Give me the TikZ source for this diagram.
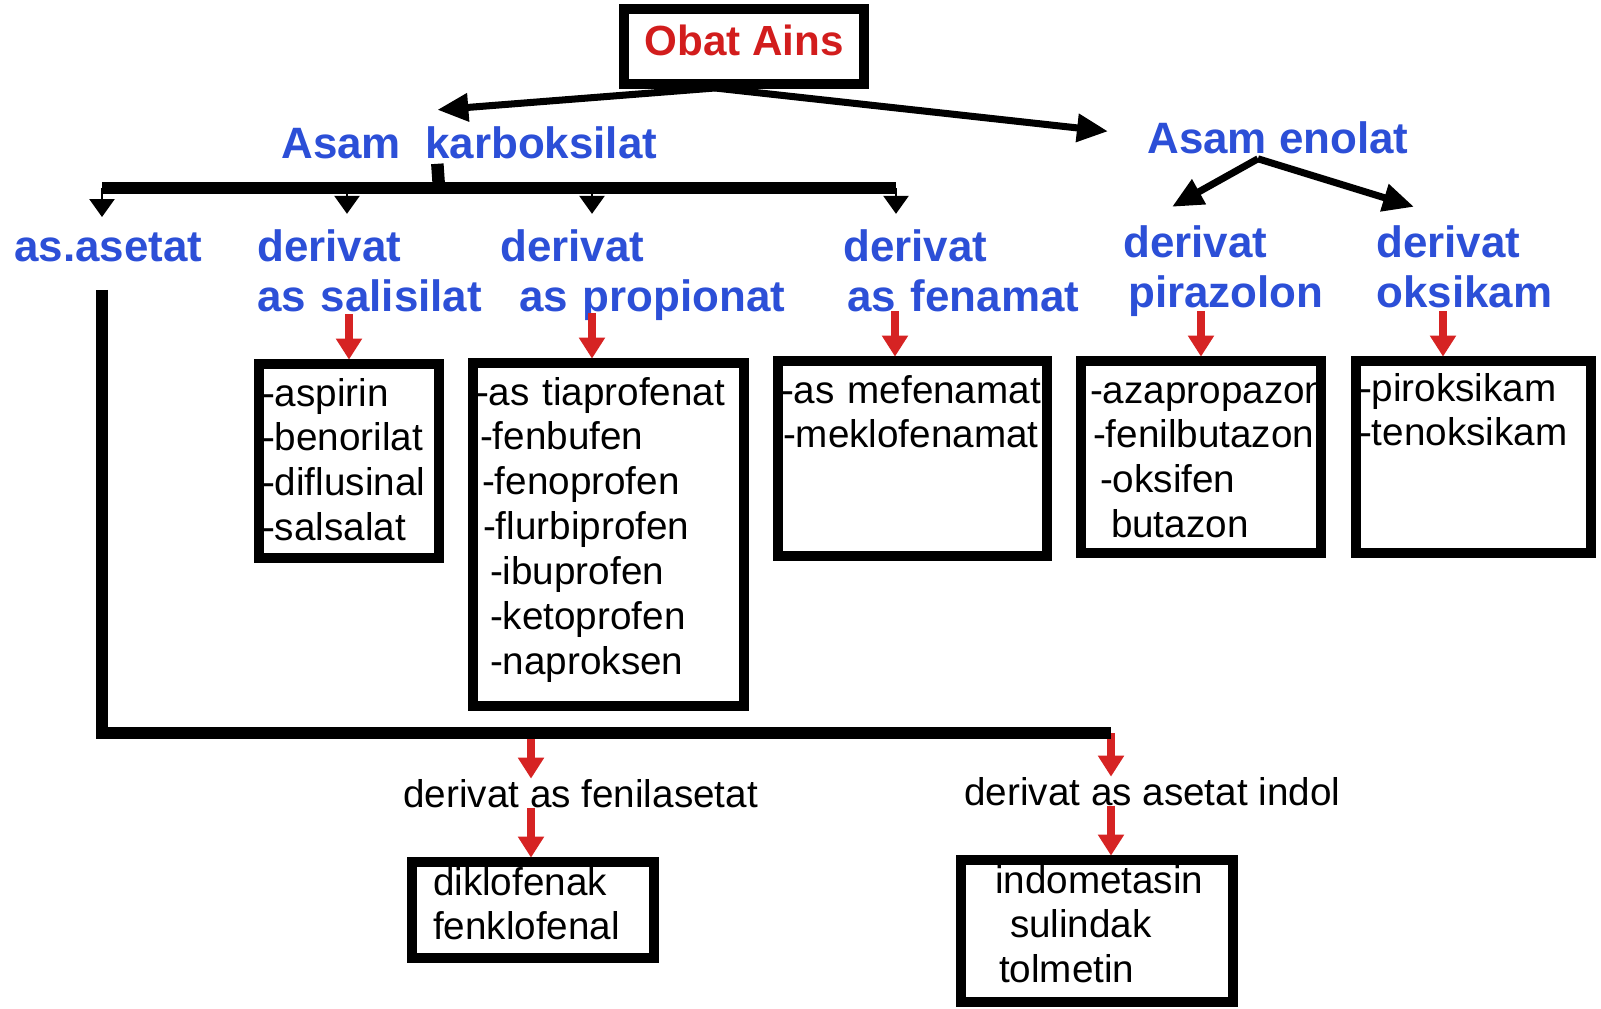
\documentclass[tikz,border=0pt]{standalone}
\usepackage{fontspec}
\setmainfont{Liberation Sans}
\usetikzlibrary{arrows.meta, positioning, calc}
\definecolor{ainsRed}{HTML}{D21D1D}
\definecolor{arrRed}{HTML}{D62323}
\definecolor{grpBlue}{HTML}{2C4FD7}
\hyphenpenalty=10000
\exhyphenpenalty=10000
\tikzset{
  bluefont/.style={font=\fontsize{25}{28.5}\selectfont\bfseries},
  listfont/.style={font=\fontsize{22}{25.6}\selectfont},
  grp/.style={bluefont, text=grpBlue, inner sep=0pt, anchor=base west},
  subgrp/.style={grp, align=left, text width=6cm},
  lstbox/.style={draw, line width=5.5pt, listfont, align=left, anchor=north west,
                 inner xsep=0.06cm, inner ysep=0pt, outer sep=0pt, text height=0.84cm},
  bigarr/.style={-{Triangle[length=0.62cm,width=0.54cm]}, line width=4pt},
}

\begin{document}
\begin{tikzpicture}[x=0.02cm, y=-0.02cm,
    heavy/.style={line width=0.25cm},
    tickarr/.style={-{Triangle[length=0.36cm,width=0.5cm]}, line width=1.5pt, shorten >=0.3cm},
    redarr/.style={-{Triangle[length=0.42cm,width=0.5cm]}, line width=0.15cm, arrRed},
    flowlbl/.style={listfont, inner sep=0pt, anchor=base west}
]
  \useasboundingbox (0,0) rectangle (1601,1008);

  % top of the tree
  \node[draw, line width=5.5pt, outer sep=0pt, minimum width=4.8cm, minimum height=1.5cm,
        font=\fontsize{24}{28}\selectfont\bfseries, text=ainsRed,
        text height=0.63cm, text depth=0.29cm] (ains) at (744,46.5) {Obat Ains};
  \node[grp] (karbo) at (281,158) {Asam~~karboksilat};
  \node[grp] (enolat) at (1147,153) {Asam enolat};
  \coordinate (fork) at ($(ains.south)+(-29,4)$);
  \draw[bigarr] (fork) -- ($(karbo.north)+(-32,-16)$);
  \draw[bigarr] (fork) -- ($(enolat.west)+(-39,-6)$);

  % asam karboksilat
  \coordinate (hub) at (439,188);
  \coordinate (b1) at (102,188);
  \coordinate (b2) at (347,188);
  \coordinate (b3) at (592,188);
  \coordinate (b4) at (896,188);
  \draw[heavy] ($(karbo.south)+(-32,5)$) -- (hub);
  \draw[heavy] (b1) -- (b4);

  \node[grp] (asetat) at (14,261) {as.asetat};
  \node[subgrp] (sali) at (257,261) {derivat\\as salisilat};
  \node[subgrp] (prop) at (500,261) {derivat\\\hspace*{0.38cm}as propionat};
  \node[subgrp] (fena) at (843,261) {derivat\\\hspace*{0.08cm}as fenamat};
  \node[subgrp] (pira) at (1123,257) {derivat\\\hspace*{0.1cm}pirazolon};
  \node[subgrp] (oksi) at (1376,257) {derivat\\oksikam};

  \foreach \b/\l in {b1/asetat, b2/sali, b3/prop, b4/fena}
    \draw[tickarr] (\b) -- (\b |- \l.north);

  % asam enolat
  \draw[bigarr] ($(enolat.south)+(-20,5)$) -- ($(pira.north west)+(49,-18)$);
  \draw[bigarr] ($(enolat.south)+(-20,5)$) -- ($(oksi.north west)+(38,-18)$);

  % drug lists
  \node[lstbox, text width=3.48cm, text depth=3.04cm] (salibox) at (259,364)
       {-aspirin\\-benorilat\\-diflusinal\\-salsalat};
  \node[lstbox, text width=5.30cm, text depth=6.02cm] (propbox) at (473,363)
       {-as tiaprofenat\\\hspace*{0.08cm}-fenbufen\\\hspace*{0.12cm}-fenoprofen\\
        \hspace*{0.14cm}-flurbiprofen\\\hspace*{0.28cm}-ibuprofen\\
        \hspace*{0.28cm}-ketoprofen\\\hspace*{0.28cm}-naproksen};
  \node[lstbox, text width=5.26cm, text depth=3.06cm] (fenabox) at (778,361)
       {-as mefenamat\\\hspace*{0.04cm}-meklofenamat};
  \node[lstbox, text width=4.68cm, text depth=3.0cm] (pirabox) at (1081,361)
       {\hspace*{0.12cm}-azapropazon\\\hspace*{0.18cm}-fenilbutazon\\
        \hspace*{0.32cm}-oksifen\\\hspace*{0.54cm}butazon};
  \node[lstbox, text width=4.58cm, text height=0.80cm, text depth=3.04cm] (oksibox) at (1356,361)
       {-piroksikam\\-tenoksikam};

  \draw[redarr, shorten >=2.5pt] ([yshift=1.0cm]salibox.north) -- (salibox.north);
  \draw[redarr, shorten >=2.5pt] ([xshift=-0.33cm,yshift=1.0cm]propbox.north) -- ([xshift=-0.33cm]propbox.north);
  \draw[redarr, shorten >=2.5pt] ([xshift=-0.35cm,yshift=1.0cm]fenabox.north) -- ([xshift=-0.35cm]fenabox.north);
  \draw[redarr, shorten >=2.5pt] ([yshift=1.0cm]pirabox.north) -- (pirabox.north);
  \draw[redarr, shorten >=2.5pt] ([xshift=-0.61cm,yshift=1.0cm]oksibox.north) -- ([xshift=-0.61cm]oksibox.north);

  % as.asetat
  \coordinate (elbow) at (102,733);
  \coordinate (hfen) at (531,733);
  \coordinate (hind) at (1111,733);
  \node[flowlbl] (fenil) at (403,807) {derivat as fenilasetat};
  \node[flowlbl] (indol) at (964,805) {derivat as asetat indol};
  \node[lstbox, inner xsep=0.42cm, text width=4.0cm, text height=0.66cm, text depth=1.26cm] (diklobox) at (412,862)
       {diklofenak\\fenklofenal};
  \node[lstbox, inner xsep=0.68cm, text width=4.08cm, text height=0.66cm, text depth=2.18cm] (indobox) at (961,860)
       {indometasin\\\hspace*{0.3cm}sulindak\\\hspace*{0.08cm}tolmetin};

  \draw[redarr] (hfen) -- (hfen |- fenil.north);
  \draw[redarr, shorten >=2.5pt] (hfen |- fenil.south) -- (hfen |- diklobox.north);
  \draw[redarr] (hind) -- (hind |- indol.north);
  \draw[redarr, shorten >=2.5pt] (hind |- indol.south) -- (hind |- indobox.north);
  \draw[heavy] ($(asetat.south -| elbow)+(0,28)$) -- (elbow) -- (hind);
\end{tikzpicture}
\end{document}
